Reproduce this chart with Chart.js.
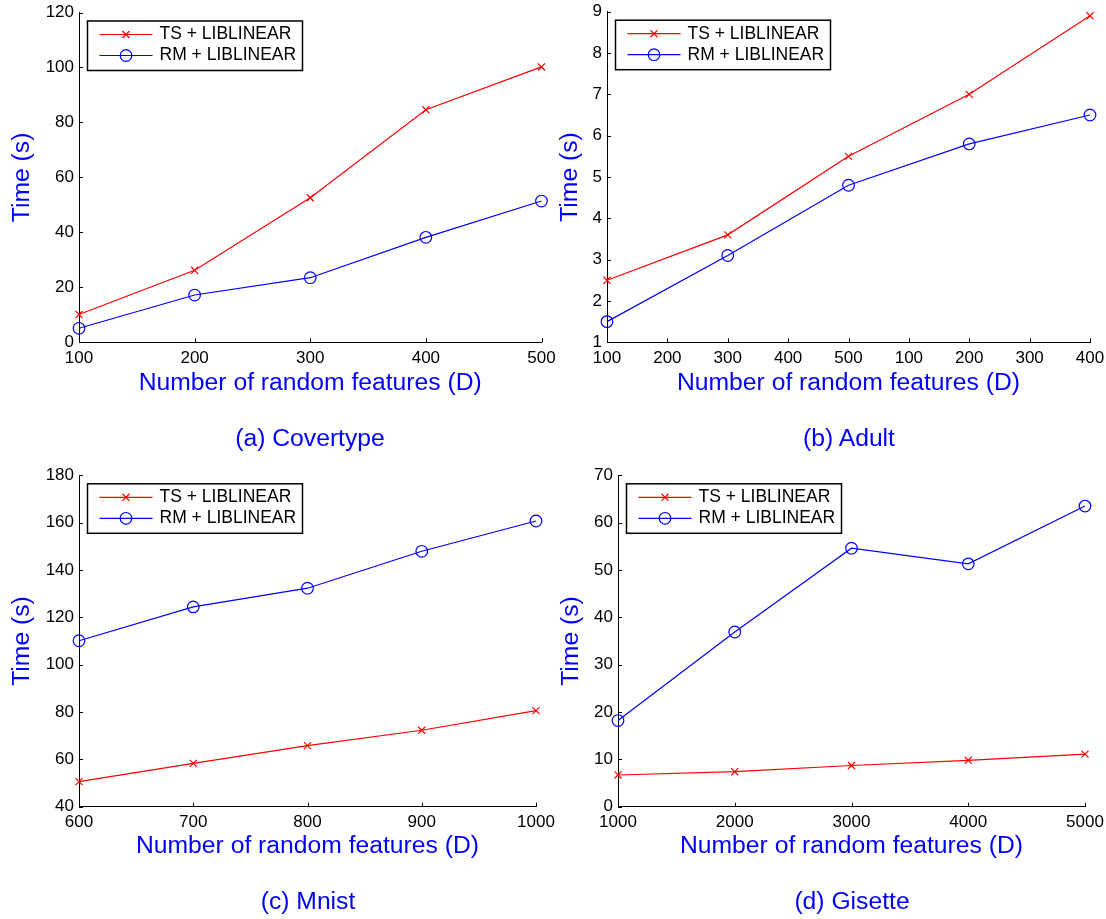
<!DOCTYPE html>
<html>
<head>
<meta charset="utf-8">
<script src="https://cdn.jsdelivr.net/npm/chart.js@4.4.1/dist/chart.umd.min.js"></script>
<style>
  html, body { margin: 0; padding: 0; background: #fff; }
  #wrap { position: relative; width: 1106px; height: 919px; overflow: hidden; background: #fff; }
  canvas { position: absolute; }
  .cap { position: absolute; width: 300px; text-align: center; font-family: "Liberation Sans", Arial, sans-serif;
         font-size: 24.7px; line-height: 30px; color: #0000ff; white-space: nowrap; }
</style>
</head>
<body>
<div id="wrap">
  <canvas id="chartA" width="575" height="460" style="left:0;top:0"></canvas>
  <canvas id="chartB" width="553" height="460" style="left:553px;top:0"></canvas>
  <canvas id="chartC" width="575" height="459" style="left:0;top:460px"></canvas>
  <canvas id="chartD" width="553" height="459" style="left:553px;top:460px"></canvas>
  <div class="cap" style="left:160px;top:423px">(a) Covertype</div>
  <div class="cap" style="left:699px;top:423px">(b) Adult</div>
  <div class="cap" style="left:158px;top:886px">(c) Mnist</div>
  <div class="cap" style="left:702px;top:886px">(d) Gisette</div>
</div>
<script>
// series names
const seriesNames = ['TS + LIBLINEAR', 'RM + LIBLINEAR'];

// (a) Covertype
const covertypeD = ['100', '200', '300', '400', '500'];
const covertypeTS = [10.1, 26.2, 52.6, 84.6, 100.2];
const covertypeRM = [5.1, 17.2, 23.5, 38.2, 51.4];

// (b) Adult - tick labels repeat, points only on every second tick
const adultD = ['100', '200', '300', '400', '500', '100', '200', '300', '400'];
const adultTS = [2.5, null, 3.6, null, 5.5, null, 7.0, null, 8.9];
const adultRM = [1.5, null, 3.1, null, 4.8, null, 5.8, null, 6.5];

// (c) Mnist
const mnistD = ['600', '700', '800', '900', '1000'];
const mnistTS = [50.6, 58.3, 65.8, 72.3, 80.6];
const mnistRM = [110.1, 124.4, 132.3, 147.9, 160.7];

// (d) Gisette
const gisetteD = ['1000', '2000', '3000', '4000', '5000'];
const gisetteTS = [6.7, 7.4, 8.7, 9.8, 11.1];
const gisetteRM = [18.2, 36.9, 54.6, 51.3, 63.5];

const FONT = '"Liberation Sans", Arial, sans-serif';

// matlab style ticks pointing inward
const innerTicks = {
    id: 'innerTicks',
    afterDraw(chart) {
        const { ctx, chartArea: a, scales: { x, y } } = chart;
        ctx.save();
        ctx.strokeStyle = '#000';
        ctx.lineWidth = 1;
        ctx.beginPath();
        x.ticks.forEach((t, i) => {
            const px = Math.round(x.getPixelForTick(i)) + 0.5;
            ctx.moveTo(px, a.bottom);
            ctx.lineTo(px, a.bottom - 4);
        });
        y.ticks.forEach((t, i) => {
            const py = Math.round(y.getPixelForTick(i)) + 0.5;
            ctx.moveTo(a.left, py);
            ctx.lineTo(a.left + 4, py);
        });
        ctx.stroke();
        ctx.restore();
    }
};

// boxed legend with line + marker samples
const boxLegend = {
    id: 'boxLegend',
    afterDraw(chart) {
        const ctx = chart.ctx, a = chart.chartArea;
        const bx = a.left + 8.5, by = a.top + 8.5, bw = 215, bh = 49.5;
        ctx.save();
        ctx.fillStyle = '#fff';
        ctx.fillRect(bx, by, bw, bh);
        ctx.strokeStyle = '#000';
        ctx.lineWidth = 1.5;
        ctx.strokeRect(bx, by, bw, bh);
        chart.data.datasets.forEach((ds, i) => {
            const y = by + 13.5 + i * 21;
            ctx.strokeStyle = ds.borderColor;
            ctx.lineWidth = ds.borderWidth;
            ctx.beginPath();
            ctx.moveTo(bx + 12, y);
            ctx.lineTo(bx + 65, y);
            ctx.stroke();
            ctx.fillStyle = 'rgba(0,0,0,0)';
            Chart.helpers.drawPoint(ctx, {
                pointStyle: ds.pointStyle, radius: ds.pointRadius,
                borderWidth: ds.pointBorderWidth, rotation: 0
            }, bx + 38.5, y);
            ctx.fillStyle = '#000';
            ctx.font = '17.5px ' + FONT;
            ctx.textBaseline = 'middle';
            ctx.textAlign = 'left';
            ctx.fillText(ds.label, bx + 72, y);
        });
        ctx.restore();
    }
};

function makeChart(id, labels, ts, rm, yMin, yMax, yStep, box) {
    const canvas = document.getElementById(id);
    const W = canvas.width, H = canvas.height;
    return new Chart(canvas.getContext('2d'), {
        type: 'line',
        data: {
            labels: labels,
            datasets: [{
                label: seriesNames[0],
                data: ts,
                borderColor: '#ff0000',
                backgroundColor: 'rgba(0,0,0,0)',
                borderWidth: 1.2,
                pointStyle: 'crossRot',
                pointRadius: 5,
                pointBorderWidth: 1.2,
                pointBorderColor: '#ff0000',
                pointBackgroundColor: 'rgba(0,0,0,0)',
                spanGaps: true,
                tension: 0,
                clip: false
            }, {
                label: seriesNames[1],
                data: rm,
                borderColor: '#0000ff',
                backgroundColor: 'rgba(0,0,0,0)',
                borderWidth: 1.2,
                pointStyle: 'circle',
                pointRadius: 5.8,
                pointBorderWidth: 1.2,
                pointBorderColor: '#0000ff',
                pointBackgroundColor: 'rgba(0,0,0,0)',
                spanGaps: true,
                tension: 0,
                clip: false
            }]
        },
        options: {
            responsive: false,
            animation: false,
            devicePixelRatio: 1,
            layout: { padding: { left: 0, top: box.T, right: W - box.R, bottom: 0 } },
            plugins: { legend: { display: false }, tooltip: { enabled: false } },
            scales: {
                x: {
                    type: 'category',
                    offset: false,
                    grid: { display: false, drawTicks: false },
                    border: { display: true, color: '#000', width: 1 },
                    ticks: {
                        color: '#000', font: { family: FONT, size: 17 },
                        padding: box.xPad, autoSkip: false, maxRotation: 0
                    },
                    title: {
                        display: true, text: 'Number of random features (D)', color: '#0000ff',
                        font: { family: FONT, size: 24.7 },
                        padding: { top: 0, bottom: H - box.B - box.xTitle - 14.8 }
                    },
                    afterFit(s) {
                        s.height = H - box.B;
                        s.paddingLeft = 0;
                        s.paddingRight = 0;
                    }
                },
                y: {
                    min: yMin, max: yMax,
                    grid: { display: false, drawTicks: false },
                    border: { display: true, color: '#000', width: 1 },
                    ticks: {
                        color: '#000', font: { family: FONT, size: 17 },
                        padding: 5, stepSize: yStep
                    },
                    title: {
                        display: true, text: 'Time (s)', color: '#0000ff',
                        font: { family: FONT, size: 24.7 },
                        padding: { top: box.yTitle - 14.8, bottom: 0 }
                    },
                    afterFit(s) {
                        s.width = box.L;
                        s.paddingTop = 0;
                        s.paddingBottom = 0;
                    }
                }
            }
        },
        plugins: [innerTicks, boxLegend]
    });
}

makeChart('chartA', covertypeD, covertypeTS, covertypeRM, 0, 120, 20,
    { L: 79, R: 541.5, T: 12.5, B: 342.3, xPad: 5.8, xTitle: 40.7, yTitle: 22 });
makeChart('chartB', adultD, adultTS, adultRM, 1, 9, 1,
    { L: 54, R: 537, T: 11.7, B: 342.3, xPad: 5.8, xTitle: 40.7, yTitle: 17.5 });
makeChart('chartC', mnistD, mnistTS, mnistRM, 40, 180, 20,
    { L: 79, R: 536, T: 15.3, B: 346.7, xPad: 5, xTitle: 40, yTitle: 22 });
makeChart('chartD', gisetteD, gisetteTS, gisetteRM, 0, 70, 10,
    { L: 65, R: 532, T: 15.3, B: 346.7, xPad: 5, xTitle: 40, yTitle: 18 });
</script>
</body>
</html>
